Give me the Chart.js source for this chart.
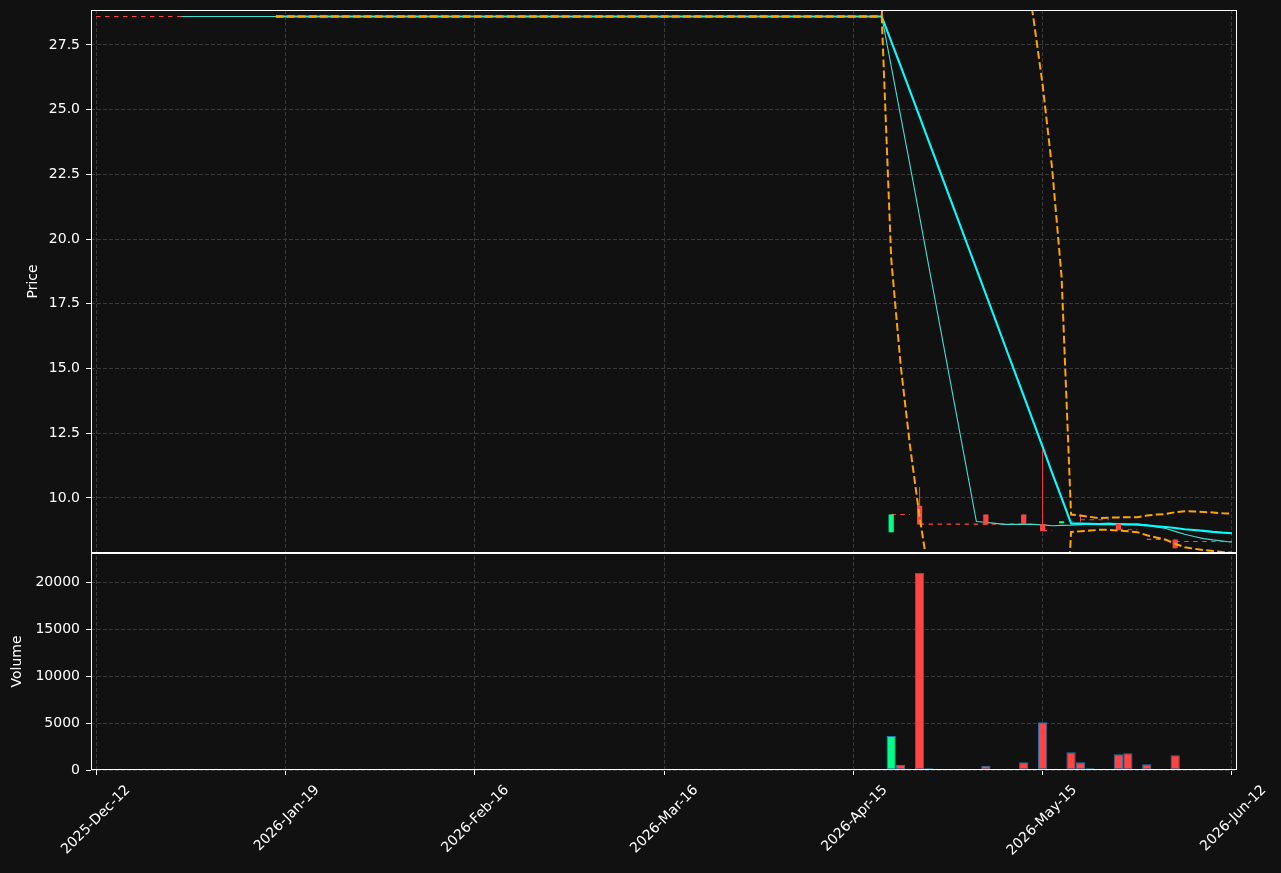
<!DOCTYPE html>
<html>
<head>
<meta charset="utf-8">
<script src="https://cdn.jsdelivr.net/npm/chart.js@4"></script>
<style>
  html, body { margin: 0; padding: 0; background: #111111; }
  #wrap { width: 1281px; height: 873px; }
</style>
</head>
<body>
<div id="wrap"><canvas id="priceChart"></canvas></div>
<script>
// x axis: session number -> date label
const tickDays = [0, 20, 40, 60, 80, 100, 120];
const tickLabels = ['2025-Dec-12', '2026-Jan-19', '2026-Feb-16', '2026-Mar-16', '2026-Apr-15', '2026-May-15', '2026-Jun-12'];
const volumeTicks = [0, 5000, 10000, 15000, 20000];

// sessions 0-83 sit flat at 28.6 with no volume; candles start at session 84
const candleDays = [
  84, 85, 86, 87, 88, 89, 90, 91, 92, 93,
  94, 95, 96, 97, 98, 99, 100, 101, 102, 103,
  104, 105, 106, 107, 108, 109, 110, 111, 112, 113,
  114, 115, 116, 117, 118, 119, 120
];
const opens = [
  8.68, 9.36, 9.36, 9.70, 8.98, 8.98, 8.98, 8.98, 8.98, 8.98,
  9.36, 8.98, 8.98, 8.98, 9.36, 8.99, 8.99, 8.72, 9.02, 9.10,
  9.16, 9.16, 9.16, 9.16, 9.00, 8.77, 8.77, 8.40, 8.40, 8.40,
  8.40, 8.06, 8.32, 8.32, 8.32, 8.32, 8.32
];
const highs = [
  9.36, 9.36, 9.36, 10.42, 8.98, 8.98, 8.98, 8.98, 8.98, 8.98,
  9.36, 8.98, 8.98, 8.98, 9.36, 8.99, 11.90, 8.72, 9.10, 9.10,
  9.36, 9.16, 9.16, 9.16, 9.00, 8.77, 8.77, 8.40, 8.40, 8.40,
  8.40, 8.06, 8.32, 8.32, 8.32, 8.32, 8.32
];
const lows = [
  8.68, 9.36, 9.36, 8.98, 8.98, 8.98, 8.98, 8.98, 8.98, 8.98,
  8.98, 8.98, 8.98, 8.98, 8.99, 8.99, 8.72, 8.72, 9.02, 9.08,
  9.08, 9.16, 9.16, 9.16, 8.77, 8.77, 8.77, 8.40, 8.40, 8.40,
  8.06, 8.06, 8.32, 8.32, 8.32, 8.32, 8.32
];
const closes = [
  9.36, 9.36, 9.36, 8.98, 8.98, 8.98, 8.98, 8.98, 8.98, 8.98,
  8.98, 8.98, 8.98, 8.98, 8.99, 8.99, 8.72, 8.72, 9.10, 9.08,
  9.16, 9.16, 9.16, 9.16, 8.77, 8.77, 8.77, 8.40, 8.40, 8.40,
  8.06, 8.06, 8.32, 8.32, 8.32, 8.32, 8.32
];
const volumes = [
  3630, 530, 0, 21070, 180, 0, 100, 0, 0, 100,
  450, 0, 0, 0, 820, 0, 5100, 0, 100, 1890,
  820, 180, 100, 0, 1680, 1780, 100, 610, 0, 0,
  1570, 0, 100, 0, 0, 100, 0
];

// per-session lines, sessions 0..120
const lastClose = [
  28.6, 28.6, 28.6, 28.6, 28.6, 28.6, 28.6, 28.6, 28.6, 28.6,
  28.6, 28.6, 28.6, 28.6, 28.6, 28.6, 28.6, 28.6, 28.6, 28.6,
  28.6, 28.6, 28.6, 28.6, 28.6, 28.6, 28.6, 28.6, 28.6, 28.6,
  28.6, 28.6, 28.6, 28.6, 28.6, 28.6, 28.6, 28.6, 28.6, 28.6,
  28.6, 28.6, 28.6, 28.6, 28.6, 28.6, 28.6, 28.6, 28.6, 28.6,
  28.6, 28.6, 28.6, 28.6, 28.6, 28.6, 28.6, 28.6, 28.6, 28.6,
  28.6, 28.6, 28.6, 28.6, 28.6, 28.6, 28.6, 28.6, 28.6, 28.6,
  28.6, 28.6, 28.6, 28.6, 28.6, 28.6, 28.6, 28.6, 28.6, 28.6,
  28.6, 28.6, 28.6, 28.6, 9.36, 9.36, 9.36, 8.99, 8.99, 8.99,
  8.99, 8.99, 8.99, 8.99, 8.99, 8.99, 8.99, 8.99, 8.99, 8.99,
  8.74, 8.74, 9.10, 9.08, 9.16, 9.16, 9.16, 9.16, 8.77, 8.77,
  8.77, 8.40, 8.40, 8.40, 8.32, 8.32, 8.32, 8.32, 8.32, 8.32,
  8.32
];
const ma10 = [
  null, null, null, null, null, null, null, null, null, 28.6,
  28.6, 28.6, 28.6, 28.6, 28.6, 28.6, 28.6, 28.6, 28.6, 28.6,
  28.6, 28.6, 28.6, 28.6, 28.6, 28.6, 28.6, 28.6, 28.6, 28.6,
  28.6, 28.6, 28.6, 28.6, 28.6, 28.6, 28.6, 28.6, 28.6, 28.6,
  28.6, 28.6, 28.6, 28.6, 28.6, 28.6, 28.6, 28.6, 28.6, 28.6,
  28.6, 28.6, 28.6, 28.6, 28.6, 28.6, 28.6, 28.6, 28.6, 28.6,
  28.6, 28.6, 28.6, 28.6, 28.6, 28.6, 28.6, 28.6, 28.6, 28.6,
  28.6, 28.6, 28.6, 28.6, 28.6, 28.6, 28.6, 28.6, 28.6, 28.6,
  28.6, 28.6, 28.6, 28.6, 26.68, 24.75, 22.83, 20.87, 18.90, 16.94,
  14.98, 13.02, 11.06, 9.09, 9.06, 9.02, 8.98, 8.98, 8.98, 8.98,
  8.96, 8.93, 8.94, 8.95, 8.97, 8.99, 9.01, 9.02, 9.00, 8.98,
  8.99, 8.95, 8.88, 8.82, 8.71, 8.60, 8.51, 8.43, 8.38, 8.34,
  8.29
];
const ma20 = [
  null, null, null, null, null, null, null, null, null, null,
  null, null, null, null, null, null, null, null, null, 28.6,
  28.6, 28.6, 28.6, 28.6, 28.6, 28.6, 28.6, 28.6, 28.6, 28.6,
  28.6, 28.6, 28.6, 28.6, 28.6, 28.6, 28.6, 28.6, 28.6, 28.6,
  28.6, 28.6, 28.6, 28.6, 28.6, 28.6, 28.6, 28.6, 28.6, 28.6,
  28.6, 28.6, 28.6, 28.6, 28.6, 28.6, 28.6, 28.6, 28.6, 28.6,
  28.6, 28.6, 28.6, 28.6, 28.6, 28.6, 28.6, 28.6, 28.6, 28.6,
  28.6, 28.6, 28.6, 28.6, 28.6, 28.6, 28.6, 28.6, 28.6, 28.6,
  28.6, 28.6, 28.6, 28.6, 27.64, 26.68, 25.71, 24.73, 23.75, 22.77,
  21.79, 20.81, 19.83, 18.85, 17.87, 16.89, 15.90, 14.92, 13.94, 12.96,
  11.97, 10.97, 10.00, 9.02, 9.01, 9.00, 8.99, 9.00, 8.99, 8.98,
  8.97, 8.94, 8.91, 8.88, 8.84, 8.79, 8.76, 8.73, 8.69, 8.66,
  8.64
];
const bandUpper = [
  null, null, null, null, null, null, null, null, null, null,
  null, null, null, null, null, null, null, null, null, 28.6,
  28.6, 28.6, 28.6, 28.6, 28.6, 28.6, 28.6, 28.6, 28.6, 28.6,
  28.6, 28.6, 28.6, 28.6, 28.6, 28.6, 28.6, 28.6, 28.6, 28.6,
  28.6, 28.6, 28.6, 28.6, 28.6, 28.6, 28.6, 28.6, 28.6, 28.6,
  28.6, 28.6, 28.6, 28.6, 28.6, 28.6, 28.6, 28.6, 28.6, 28.6,
  28.6, 28.6, 28.6, 28.6, 28.6, 28.6, 28.6, 28.6, 28.6, 28.6,
  28.6, 28.6, 28.6, 28.6, 28.6, 28.6, 28.6, 28.6, 28.6, 28.6,
  28.6, 28.6, 28.6, 28.6, 36.02, 38.22, 39.45, 40.20, 40.55, 40.58,
  40.35, 39.89, 39.22, 38.35, 37.28, 36.02, 34.54, 32.83, 30.87, 28.60,
  25.95, 22.73, 18.54, 9.36, 9.32, 9.27, 9.22, 9.24, 9.25, 9.26,
  9.26, 9.32, 9.36, 9.38, 9.45, 9.49, 9.48, 9.46, 9.44, 9.41,
  9.40
];
const bandLower = [
  null, null, null, null, null, null, null, null, null, null,
  null, null, null, null, null, null, null, null, null, 28.6,
  28.6, 28.6, 28.6, 28.6, 28.6, 28.6, 28.6, 28.6, 28.6, 28.6,
  28.6, 28.6, 28.6, 28.6, 28.6, 28.6, 28.6, 28.6, 28.6, 28.6,
  28.6, 28.6, 28.6, 28.6, 28.6, 28.6, 28.6, 28.6, 28.6, 28.6,
  28.6, 28.6, 28.6, 28.6, 28.6, 28.6, 28.6, 28.6, 28.6, 28.6,
  28.6, 28.6, 28.6, 28.6, 28.6, 28.6, 28.6, 28.6, 28.6, 28.6,
  28.6, 28.6, 28.6, 28.6, 28.6, 28.6, 28.6, 28.6, 28.6, 28.6,
  28.6, 28.6, 28.6, 28.6, 19.25, 15.13, 11.97, 9.27, 6.96, 4.96,
  3.23, 1.73, 0.43, -0.66, -1.55, -2.25, -2.73, -2.98, -2.98, -2.68,
  -2.01, -0.78, 1.45, 8.69, 8.71, 8.74, 8.77, 8.77, 8.74, 8.71,
  8.68, 8.56, 8.47, 8.39, 8.23, 8.10, 8.04, 7.99, 7.95, 7.91,
  7.88
];

const UP = '#00ff88';
const DOWN = '#ff4444';
const GRID = '#3a3a3a';

Chart.defaults.font.family = "'DejaVu Sans', sans-serif";
Chart.defaults.font.size = 14;
Chart.defaults.color = '#ffffff';

const asPoints = arr => arr.map((v, i) => ({ x: i, y: v }));
const candleColor = candleDays.map((d, k) => (closes[k] > opens[k] ? UP : DOWN));

// keep each dataset inside its own panel
const panelClip = {
  id: 'panelClip',
  beforeDatasetDraw(chart, args) {
    const ys = args.meta.yScale;
    const a = chart.chartArea;
    chart.ctx.save();
    chart.ctx.beginPath();
    chart.ctx.rect(a.left, ys.top, a.right - a.left, ys.bottom - ys.top);
    chart.ctx.clip();
  },
  afterDatasetDraw(chart) {
    chart.ctx.restore();
  }
};

// white spines round both panels
const panelFrames = {
  id: 'panelFrames',
  afterDraw(chart) {
    const { ctx, chartArea } = chart;
    ctx.save();
    ctx.strokeStyle = '#ffffff';
    ctx.lineWidth = 1;
    ['y', 'yVol'].forEach(id => {
      const s = chart.scales[id];
      ctx.strokeRect(Math.round(chartArea.left) + 0.5, Math.round(s.top) + 0.5,
        Math.round(chartArea.right - chartArea.left) - 1, Math.round(s.bottom - s.top) - 1);
    });
    ctx.restore();
  }
};

const gridOpts = { color: GRID, lineWidth: 1, tickLength: 5, tickColor: '#ffffff', tickWidth: 1, tickBorderDash: [], offset: false };
// fixed y-axis column, no extra room asked for the end labels
const fitLeft = s => { s.width = 91; s.paddingTop = 0; s.paddingBottom = 0; };

new Chart('priceChart', {
  type: 'bar',
  data: {
    datasets: [
      {
        type: 'line', label: 'BB upper', data: asPoints(bandUpper), yAxisID: 'y', order: 1,
        borderColor: '#ffa500', borderWidth: 2, borderDash: [7.7, 3.3], pointRadius: 0,
      },
      {
        type: 'line', label: 'BB lower', data: asPoints(bandLower), yAxisID: 'y', order: 1,
        borderColor: '#ffa500', borderWidth: 2, borderDash: [7.7, 3.3], pointRadius: 0,
      },
      {
        label: 'body', yAxisID: 'y', order: 2,
        data: candleDays.map((d, k) => ({ x: d, y: [opens[k], closes[k]] })),
        backgroundColor: candleColor, borderWidth: 0,
        barPercentage: 0.55, categoryPercentage: 1, grouped: false, inflateAmount: 0,
      },
      {
        label: 'wick', yAxisID: 'y', order: 3,
        data: candleDays.map((d, k) => ({ x: d, y: [lows[k], highs[k]] })),
        backgroundColor: candleColor, borderWidth: 0,
        barThickness: 1, grouped: false, inflateAmount: 0,
      },
      {
        type: 'line', label: 'MA20', data: asPoints(ma20), yAxisID: 'y', order: 4,
        borderColor: '#00ffff', borderWidth: 2.1, pointRadius: 0,
      },
      {
        type: 'line', label: 'MA10', data: asPoints(ma10), yAxisID: 'y', order: 5,
        borderColor: '#40e0d0', borderWidth: 1.1, pointRadius: 0,
      },
      {
        type: 'line', label: 'last close', data: asPoints(lastClose), yAxisID: 'y', order: 6,
        borderColor: DOWN, borderWidth: 1.1, borderDash: [4.5, 4.5], pointRadius: 0, stepped: 'middle',
        segment: { borderColor: c => (c.p0.parsed.y === c.p1.parsed.y ? DOWN : 'transparent') },
      },
      {
        label: 'Volume', yAxisID: 'yVol', order: 7,
        data: candleDays.map((d, k) => ({ x: d, y: volumes[k] })),
        backgroundColor: candleColor, borderColor: '#1f77b4', borderWidth: 1, borderSkipped: false,
        barPercentage: 0.98, categoryPercentage: 1, grouped: false, inflateAmount: 0,
      },
    ],
  },
  options: {
    responsive: true,
    maintainAspectRatio: false,
    animation: false,
    events: [],
    layout: { padding: { top: 10, right: 44, left: 0, bottom: 0 } },
    plugins: { legend: { display: false }, tooltip: { enabled: false } },
    scales: {
      x: {
        type: 'linear', min: -0.53, max: 120.53, offset: false,
        afterBuildTicks: s => { s.ticks = tickDays.map(v => ({ value: v })); },
        afterFit: s => { s.height = 103; },
        ticks: {
          autoSkip: false, minRotation: 45, maxRotation: 45, labelOffset: 32, padding: 7,
          callback: v => tickLabels[tickDays.indexOf(v)],
        },
        grid: gridOpts,
        border: { display: false, dash: [4, 2] },
      },
      y: {
        type: 'linear', position: 'left', stack: 'panels', stackWeight: 2.5, weight: 1,
        min: 7.88, max: 28.85,
        afterFit: fitLeft,
        title: { display: true, text: 'Price', padding: { top: 24.6, bottom: 0 } },
        ticks: { stepSize: 2.5, includeBounds: false, padding: 6, callback: v => v.toFixed(1) },
        grid: gridOpts,
        border: { display: false, dash: [4, 2] },
      },
      yVol: {
        type: 'linear', position: 'left', stack: 'panels', stackWeight: 1, weight: 0,
        min: 0, max: 23200,
        afterBuildTicks: s => { s.ticks = volumeTicks.map(v => ({ value: v })); },
        afterFit: fitLeft,
        title: { display: true, text: 'Volume', padding: { top: 8.6, bottom: 0 } },
        ticks: { padding: 6, callback: v => String(v) },
        grid: gridOpts,
        border: { display: false, dash: [4, 2] },
      },
    },
  },
  plugins: [panelClip, panelFrames],
});
</script>
</body>
</html>
